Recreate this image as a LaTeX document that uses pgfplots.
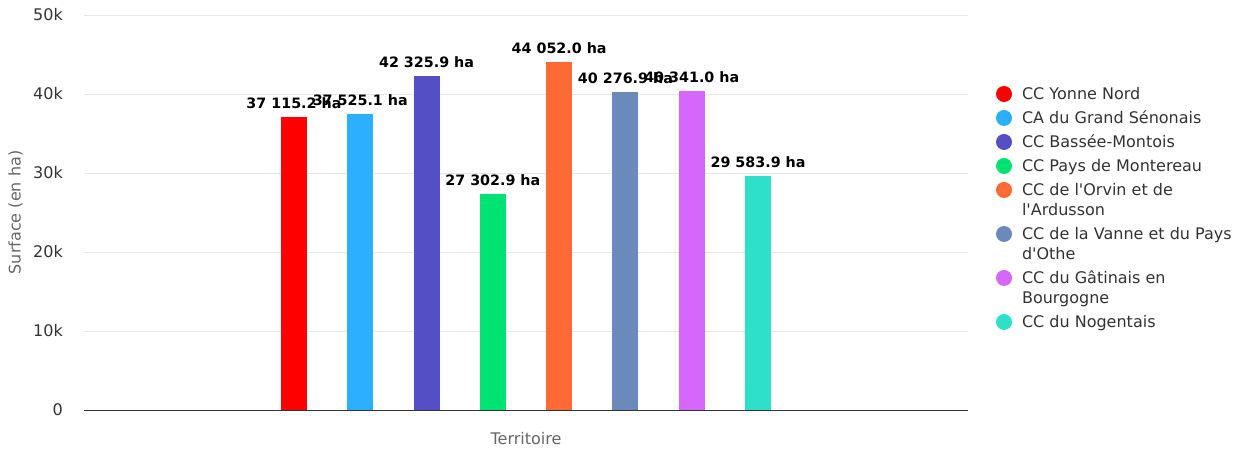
\documentclass[border=0pt]{standalone}
\usepackage{fontspec}
\setmainfont{DejaVu Sans}
\usepackage{pgfplots}
\pgfplotsset{compat=1.18}
\definecolor{c1}{HTML}{FF0000}
\definecolor{c2}{HTML}{2CAFFE}
\definecolor{c3}{HTML}{544FC5}
\definecolor{c4}{HTML}{00E272}
\definecolor{c5}{HTML}{FE6A35}
\definecolor{c6}{HTML}{6B8ABC}
\definecolor{c7}{HTML}{D568FB}
\definecolor{c8}{HTML}{2EE0CA}
\definecolor{txt}{HTML}{333333}
\definecolor{ttl}{HTML}{666666}
\definecolor{grd}{HTML}{E6E6E6}
\newcommand\st{\rule[-6pt]{0pt}{20pt}}
\newcommand\q{\textquotesingle}
% two-line legend entry, baseline on the first line
\newcommand\two[2]{\vtop{\hbox{\st #1}\hbox{\st #2}}}
\begin{document}
\begin{tikzpicture}
\useasboundingbox (0,0) rectangle (1242pt,450pt);
\begin{axis}[
  at={(84pt,40pt)}, anchor=south west,
  scale only axis, width=884pt, height=395pt,
  xmin=-3.1667, xmax=10.1667, ymin=0, ymax=50000,
  ybar, bar width=26pt, bar shift=0pt,
  axis x line=bottom, axis y line=left,
  x axis line style={-, draw=txt, line width=1pt},
  y axis line style={draw=none},
  xtick=\empty,
  ytick={0,10000,20000,30000,40000,50000},
  yticklabels={0,10k,20k,30k,40k,50k},
  scaled y ticks=false,
  major tick length=0pt,
  ymajorgrids, grid style={draw=grd, line width=1pt},
  yticklabel style={font=\fontsize{16}{19}\selectfont, text=txt, inner sep=0pt, anchor=east, xshift=-21pt},
  xlabel={Territoire}, ylabel={Surface (en ha)},
  xlabel style={font=\fontsize{16}{19}\selectfont, text=ttl, at={(axis description cs:0.5,-0.0886)}, anchor=base},
  ylabel style={font=\fontsize{16}{19}\selectfont, text=ttl, at={(axis description cs:-0.0775,0.5)}, anchor=center},
  nodes near coords={\pgfmathprintnumber[fixed, fixed zerofill, precision=1, 1000 sep={\ }, assume math mode=true]{\pgfplotspointmeta}\ ha},
  nodes near coords style={font=\fontsize{14.3}{17}\selectfont\bfseries, text=black, anchor=south, inner sep=0pt, yshift=8pt},
  legend image code/.code={\fill[#1, draw=none] (8pt,6pt) circle (8pt);},
  legend style={at={(axis description cs:1.0317,0.8203)}, anchor=north west, draw=none, fill=none,
    inner sep=0pt, outer sep=0pt, row sep=4pt, column sep=10pt,
    font=\fontsize{16}{20}\selectfont,
    nodes={inner sep=0pt, text depth={}, text=txt}, cells={anchor=base west}},
]
\addplot[fill=c1, draw=none] coordinates {(0,37115.2)};
\addlegendentry{\st CC Yonne Nord}
\addplot[fill=c2, draw=none] coordinates {(1,37525.1)};
\addlegendentry{\st CA du Grand Sénonais}
\addplot[fill=c3, draw=none] coordinates {(2,42325.9)};
\addlegendentry{\st CC Bassée-Montois}
\addplot[fill=c4, draw=none] coordinates {(3,27302.9)};
\addlegendentry{\st CC Pays de Montereau}
\addplot[fill=c5, draw=none] coordinates {(4,44052.0)};
\addlegendentry{\two{CC de l\q Orvin et de}{l\q Ardusson}}
\addplot[fill=c6, draw=none] coordinates {(5,40276.9)};
\addlegendentry{\two{CC de la Vanne et du Pays}{d\q Othe}}
\addplot[fill=c7, draw=none] coordinates {(6,40341.0)};
\addlegendentry{\two{CC du Gâtinais en}{Bourgogne}}
\addplot[fill=c8, draw=none] coordinates {(7,29583.9)};
\addlegendentry{\st CC du Nogentais}
\end{axis}
\end{tikzpicture}
\end{document}
